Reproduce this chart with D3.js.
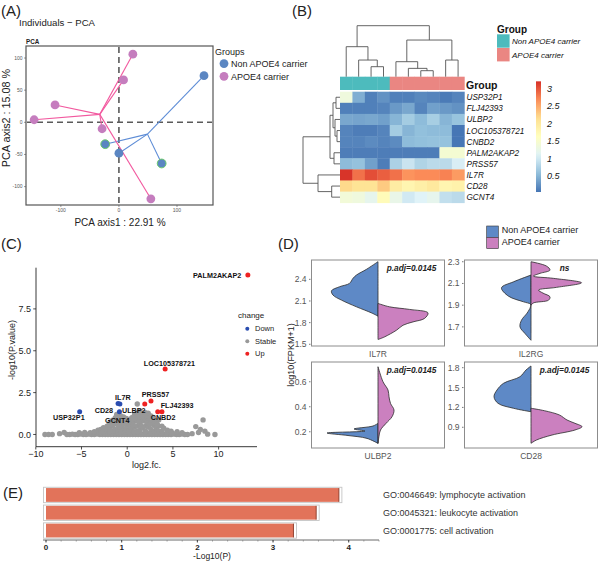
<!DOCTYPE html>
<html><head><meta charset="utf-8">
<script src="https://cdn.jsdelivr.net/npm/d3@7"></script>
<style>body{margin:0;background:#fff}svg{display:block}text{font-family:"Liberation Sans",Arial,Helvetica,sans-serif}</style>
</head><body><svg id="c" width="600" height="562"></svg>
<script>
// ================= DATA =================
// (A) PCA
const pcaGroupNames = ["Non APOE4 carrier", "APOE4 carrier"];
const pcaNonX = [146.5, -23.6, 0, 73.6];
const pcaNonY = [72.5, -34, -48, -64];
const pcaNonRing = [0, 1, 0, 1];
const pcaApoX = [24, 8, -110, -146, -29, 55];
const pcaApoY = [106, 66, 27, 4, -10, -119];
const pcaXTicks = [-100, 0, 100];
const pcaYTicks = [-100, -50, 0, 50, 100];

// (B) heatmap
const hmGenes = ["USP32P1","FLJ42393","ULBP2","LOC105378721","CNBD2","PALM2AKAP2","PRSS57","IL7R","CD28","GCNT4"];
const hmSamples = ["S1","S2","S3","S4","S5","S6","S7","S8","S9","S10"];
const hmSampleGroup = ["Non APOE4 carrier","Non APOE4 carrier","Non APOE4 carrier","Non APOE4 carrier",
  "APOE4 carrier","APOE4 carrier","APOE4 carrier","APOE4 carrier","APOE4 carrier","APOE4 carrier"];
const hmValues = [
  [1.35,0.45,0.12,0.25,0.12,0.12,0.18,0.15,0.08,0.15],
  [0.12,0.12,0.12,0.15,0.30,0.40,0.15,0.35,0.30,0.25],
  [0.40,0.38,0.40,0.35,0.50,0.70,0.55,0.72,0.50,0.62],
  [0.15,0.10,0.10,0.15,0.70,0.50,0.58,0.55,0.55,0.05],
  [0.15,0.15,0.20,0.15,0.20,0.55,0.58,0.60,0.60,0.05],
  [0.10,0.10,0.10,0.10,0.10,0.10,0.10,0.10,1.45,1.45],
  [0.55,0.60,0.35,0.10,0.75,0.95,0.78,0.85,0.85,1.05],
  [3.20,2.85,3.05,2.95,2.85,2.65,2.70,2.70,2.75,2.60],
  [2.20,2.10,2.10,2.30,1.95,1.80,1.90,2.00,1.80,1.85],
  [1.40,1.35,1.20,1.70,1.25,1.00,1.10,1.20,0.90,0.85]
];
const hmLegendTicks = [0.5, 1, 1.5, 2, 2.5, 3];
const hmRange = [0.04, 3.22];
// hclust-style merges (negative = leaf, positive = earlier merge) and heights
const colMerge = [[-3,-4],[-2,1],[-1,2],[-7,-8],[-6,4],[-5,5],[-9,-10],[6,7],[3,8]];
const colHeight = [30,50,90,18,25,45,50,110,153];
const rowMerge = [[-4,-5],[-1,-2],[-3,1],[2,3],[-6,-7],[4,5],[-9,-10],[-8,7],[6,8]];
const rowHeight = [3,4,5,7,6,10,8.3,22,37];

// (C) volcano
const volStable = [
 [-9.0,0],[-8.6,0],[-8.2,0],[-7.4,0.05],[-6.9,0.12],
 [-6.6,0],[-6.3,0],[-6.0,0.02],[-5.7,0],[-5.4,0],[-5.1,0.03],[-4.8,0],[-4.5,0],[-4.2,0.02],[-3.9,0],[-3.6,0],[-3.3,0.03],
 [-3.0,0],[-2.7,0],[-2.4,0],[-2.1,0],[-1.8,0],[-1.5,0],[-1.2,0],[-0.9,0],[-0.6,0],[-0.3,0],[0,0],[0.3,0],[0.6,0],[0.9,0],
 [1.2,0],[1.5,0],[1.8,0],[2.1,0],[2.4,0],[2.7,0],[3.0,0],[3.3,0],[3.6,0],[3.9,0],[4.2,0],[4.5,0],[4.8,0],[5.1,0.02],
 [5.4,0],[5.7,0],[6.0,0.03],[6.3,0],[6.6,0],
 [-5.25,0.1],[-4.65,0.12],[-4.05,0.1],[-3.45,0.12],[-2.85,0.12],[-2.25,0.13],[-1.65,0.12],[-1.05,0.12],[-0.45,0.13],
 [0.15,0.12],[0.75,0.12],[1.35,0.13],[1.95,0.12],[2.55,0.12],[3.15,0.12],[3.75,0.1],[4.35,0.1],[4.95,0.08],
 [7.1,0.05],[7.5,0.47],[7.8,0.12],[8.0,0.3],[8.3,0.87],[8.5,0.2],[8.8,0.02],[9.6,0],
 [-3.6,0.17],[-3.2,0.25],[-2.9,0.3],[-2.9,0.1],[-2.6,0.4],[-2.6,0.15],[-2.2,0.5],[-2.2,0.25],[-1.9,0.7],[-1.9,0.35],
 [-1.9,0.15],[-1.6,0.85],[-1.6,0.5],[-1.6,0.2],[-1.3,1.0],[-1.3,0.65],[-1.3,0.3],[-1.0,0.9],[-1.0,0.55],[-1.0,0.25],
 [-0.7,1.1],[-0.7,0.75],[-0.7,0.4],[-0.7,0.15],[-0.4,1.05],[-0.4,0.7],[-0.4,0.35],[-0.1,0.95],[-0.1,0.6],[-0.1,0.3],
 [0.2,0.9],[0.2,0.55],[0.2,0.25],[0.5,1.0],[0.5,0.65],[0.5,0.3],[0.8,1.2],[0.8,0.8],[0.8,0.45],[0.8,0.15],
 [1.1,1.82],[1.1,1.3],[1.1,0.9],[1.1,0.5],[1.1,0.2],[1.4,1.4],[1.4,1.0],[1.4,0.6],[1.4,0.25],[1.7,1.2],[1.7,0.8],[1.7,0.4],
 [2.0,1.3],[2.0,0.9],[2.0,0.5],[2.0,0.2],[2.3,1.27],[2.3,0.85],[2.3,0.45],[2.6,1.1],[2.6,0.7],[2.6,0.3],
 [2.9,0.95],[2.9,0.55],[2.9,0.2],[3.2,0.8],[3.2,0.4],[3.45,0.87],[3.45,0.5],[3.45,0.2],[3.8,0.5],[3.8,0.2],
 [4.0,0.37],[4.4,0.25],[4.8,0.2],[5.46,0.17],[6.0,0.1],
 [-2.4,0.35],[-2.0,0.55],[-1.75,0.6],[-1.45,0.75],[-1.15,1.2],[-1.15,0.8],[-0.85,1.0],[-0.55,0.9],[-0.55,0.55],
 [-0.25,0.85],[0.05,0.75],[0.35,0.8],[0.65,0.95],[0.95,1.05],[1.25,1.15],[1.25,0.75],[1.55,1.25],[1.85,1.05],
 [2.15,1.1],[2.45,1.0],[2.75,0.8],[3.05,0.65],[3.3,0.6],[-0.85,0.45],[0.35,0.45],[0.65,0.6],[1.55,0.5],[2.15,0.7],[2.45,0.6]
];
const volGenes = ["PALM2AKAP2","LOC105378721","PRSS57","ULBP2","FLJ42393","CNBD2","IL7R","CD28","GCNT4","USP32P1"];
const volFC = [13.2, 4.15, 2.6, 1.92, 3.8, 3.34, -0.8, -1.0, -0.85, -5.2];
const volP = [9.52, 3.91, 2.0, 1.82, 1.36, 1.36, 1.82, 1.85, 1.36, 1.36];
const volChange = ["Up","Up","Up","Up","Up","Up","Down","Down","Down","Down"];
const volLabelX = [12.48, 4.62, 3.09, 0.72, 5.46, 3.93, -0.48, -2.55, -1.09, -6.38];
const volLabelY = [9.34, 4.09, 2.21, 1.31, 1.61, 0.87, 2.06, 1.31, 0.69, 0.87];
const volXTicks = [-10, -5, 0, 5, 10];
const volYTicks = [0, 2.5, 5, 7.5];
const volLegend = ["Down", "Stable", "Up"];

// (D) split violins: [log10(FPKM+1), relative density]
const vioGenes = ["IL7R", "IL2RG", "ULBP2", "CD28"];
const vioNon = [
  [[2.645,0],[2.539,0.23],[2.46,0.43],[2.414,0.5],[2.344,0.57],[2.297,0.77],[2.241,0.93],[2.182,0.9],[2.112,0.73],[2.019,0.43],[1.935,0.13],[1.89,0]],
  [[2.177,0],[2.115,0.35],[2.06,0.59],[1.983,0.45],[1.931,0.15],[1.909,0.01],[1.884,0.01],[1.826,0.08],[1.762,0.19],[1.70,0.22],[1.639,0.12],[1.577,0]],
  [[0.267,0],[0.246,0.1],[0.222,0.48],[0.206,0.26],[0.19,1.02],[0.17,0.6],[0.147,0.22],[0.107,0]],
  [[1.826,0],[1.765,0.1],[1.664,0.22],[1.564,0.55],[1.463,0.68],[1.362,0.74],[1.262,0.66],[1.187,0.35],[1.135,0]]
];
const vioApo = [
  [[2.066,0],[2.019,0.23],[1.983,0.63],[1.935,1.0],[1.858,0.93],[1.81,0.7],[1.764,0.5],[1.695,0.37],[1.602,0.13],[1.566,0]],
  [[2.30,0],[2.26,0.31],[2.223,0.38],[2.193,0.18],[2.168,0.05],[2.147,0.45],[2.106,1.01],[2.064,0.51],[2.039,0.15],[2.011,0.24],[1.977,0.38],[1.946,0.35],[1.921,0.05],[1.90,0]],
  [[0.72,0],[0.6,0.1],[0.534,0.2],[0.48,0.22],[0.427,0.25],[0.374,0.32],[0.32,0.28],[0.267,0.16],[0.214,0.05],[0.165,0.02],[0.107,0]],
  [[1.187,0],[1.15,0.27],[1.085,0.57],[1.01,0.72],[0.96,0.88],[0.909,1.02],[0.859,0.88],[0.783,0.42],[0.708,0.11],[0.658,0]]
];
const vioDomain = [[1.476,2.668],[1.524,2.316],[0.07,0.758],[0.587,1.886]];
const vioTicks = [[1.5,1.8,2.1,2.4],[1.7,1.9,2.1,2.3],[0.2,0.4,0.6],[0.9,1.2,1.5,1.8]];
const vioSig = ["p.adj=0.0145", "ns", "p.adj=0.0145", "p.adj=0.0145"];

// (E) GO enrichment
const goTerms = ["GO:0046649: lymphocyte activation","GO:0045321: leukocyte activation","GO:0001775: cell activation"];
const goLogP = [3.87, 3.57, 3.27];
const goTicks = [0, 1, 2, 3, 4];

// ================= DRAW =================
const svg = d3.select("#c");
svg.append("rect").attr("width",600).attr("height",562).attr("fill","#fff");
function txt(g, x, y, s, o) {
  o = o || {};
  const t = g.append("text").attr("x", x).attr("y", y).text(s)
    .attr("font-size", o.size || 9).attr("fill", o.fill || "#222");
  if (o.anchor) t.attr("text-anchor", o.anchor);
  if (o.weight) t.attr("font-weight", o.weight);
  if (o.style) t.attr("font-style", o.style);
  if (o.rotate) t.attr("transform", `rotate(${o.rotate},${x},${y})`);
  return t;
}
// panel labels
[["(A)",1,16],["(B)",292,16],["(C)",1,249],["(D)",278,249],["(E)",3,498]].forEach(d=>txt(svg,d[1],d[2],d[0],{size:15,fill:"#222"}));

// ---------- A ----------
(function(){
  const g = svg.append("g");
  const x = d3.scaleLinear().domain([-160,162]).range([26,213]);
  const y = d3.scaleLinear().domain([-128.6,118.7]).range([205,46]);
  txt(g,19,26,"Individuals \u2212 PCA",{size:9.6});
  txt(g,26,44,"PCA",{size:6.3,weight:"bold"});
  g.append("line").attr("x1",x(0)).attr("x2",x(0)).attr("y1",47).attr("y2",204)
    .attr("stroke","#5a5a5a").attr("stroke-width",1.6).attr("stroke-dasharray","6,4");
  g.append("line").attr("y1",y(0)).attr("y2",y(0)).attr("x1",27).attr("x2",212)
    .attr("stroke","#5a5a5a").attr("stroke-width",1.6).attr("stroke-dasharray","6,4");
  const groups = [
    {xs:pcaNonX, ys:pcaNonY, ring:pcaNonRing, fill:"#5B86C2", line:"#5D8CD6"},
    {xs:pcaApoX, ys:pcaApoY, ring:null, fill:"#C57DBE", line:"#F2599F"}
  ];
  groups.forEach(gr=>{
    const cx = d3.mean(gr.xs), cy = d3.mean(gr.ys);
    gr.xs.forEach((v,i)=>g.append("line").attr("x1",x(cx)).attr("y1",y(cy)).attr("x2",x(v)).attr("y2",y(gr.ys[i]))
      .attr("stroke",gr.line).attr("stroke-width",1.1));
  });
  groups.forEach(gr=>{
    gr.xs.forEach((v,i)=>g.append("circle").attr("cx",x(v)).attr("cy",y(gr.ys[i])).attr("r",4.4)
      .attr("fill",gr.fill).attr("stroke",gr.ring && gr.ring[i] ? "#6CCB6C" : "none").attr("stroke-width",1));
  });
  g.append("rect").attr("x",26).attr("y",46).attr("width",187).attr("height",159)
    .attr("fill","none").attr("stroke","#555").attr("stroke-width",1.2);
  pcaXTicks.forEach(v=>{
    g.append("line").attr("x1",x(v)).attr("x2",x(v)).attr("y1",205).attr("y2",207).attr("stroke","#555").attr("stroke-width",0.6);
    txt(g,x(v),211.5,String(v),{size:5,anchor:"middle",fill:"#555"});
  });
  pcaYTicks.forEach(v=>{
    g.append("line").attr("x1",24).attr("x2",26).attr("y1",y(v)).attr("y2",y(v)).attr("stroke","#555").attr("stroke-width",0.6);
    txt(g,22.5,y(v)+1.8,String(v),{size:5,anchor:"end",fill:"#555"});
  });
  txt(g,120,226,"PCA axis1 : 22.91 %",{size:10,anchor:"middle",fill:"#222"});
  txt(g,10,118,"PCA axis2 : 15.08 %",{size:10.8,anchor:"middle",rotate:-90,fill:"#222"});
  txt(g,215,55,"Groups",{size:9});
  pcaGroupNames.forEach((n,i)=>{
    g.append("circle").attr("cx",224).attr("cy",63.6+i*12.7).attr("r",4.4).attr("fill",groups[i].fill);
    txt(g,231,66.8+i*12.7,n,{size:9});
  });
})();

// ---------- B ----------
(function(){
  const g = svg.append("g");
  const hx = d3.scaleBand().domain(hmSamples).range([340,464.3]);
  const hy = d3.scaleBand().domain(hmGenes).range([91.7,202.7]);
  const pal = ["#4575B4","#91BFDB","#E0F3F8","#FFFFBF","#FEE090","#FC8D59","#D73027"];
  const col = d3.scaleLinear().domain(d3.range(7).map(i=>hmRange[0]+i*(hmRange[1]-hmRange[0])/6)).range(pal).clamp(true);
  const grpCol = {"Non APOE4 carrier":"#4DBBBD","APOE4 carrier":"#EA8682"};
  hmValues.forEach((row,ri)=>row.forEach((v,ci)=>{
    g.append("rect").attr("x",hx(hmSamples[ci])).attr("y",hy(hmGenes[ri]))
      .attr("width",hx.bandwidth()+0.4).attr("height",hy.bandwidth()+0.4).attr("fill",col(v));
  }));
  hmSamples.forEach((s,ci)=>g.append("rect").attr("x",hx(s)).attr("y",76.7).attr("width",hx.bandwidth()+0.4)
    .attr("height",13.3).attr("fill",grpCol[hmSampleGroup[ci]]));
  hmGenes.forEach(gn=>txt(g,466.5,hy(gn)+hy.bandwidth()/2+3,gn,{size:8.2,style:"italic",fill:"#111"}));
  txt(g,466,88.5,"Group",{size:10.5,weight:"bold",fill:"#111"});
  function dendro(merge, heights, leafPos, hpx, base, vertical){
    const pos=[], hh=[];
    const get=k=>k<0?{p:leafPos(-k-1),h:0}:{p:pos[k-1],h:hh[k-1]};
    merge.forEach((m,i)=>{
      const a=get(m[0]), b=get(m[1]), h=heights[i];
      pos[i]=(a.p+b.p)/2; hh[i]=h;
      let d;
      if (vertical) d=`M${a.p},${base-hpx(a.h)}V${base-hpx(h)}H${b.p}V${base-hpx(b.h)}`;
      else d=`M${base-hpx(a.h)},${a.p}H${base-hpx(h)}V${b.p}H${base-hpx(b.h)}`;
      g.append("path").attr("d",d).attr("fill","none").attr("stroke","#555").attr("stroke-width",0.9);
    });
  }
  dendro(colMerge,colHeight,i=>hx(hmSamples[i])+hx.bandwidth()/2,d3.scaleLinear().domain([0,153]).range([0,51]),76.7,true);
  dendro(rowMerge,rowHeight,i=>hy(hmGenes[i])+hy.bandwidth()/2,d3.scaleLinear().domain([0,37]).range([0,37]),340,false);
  txt(g,497,33,"Group",{size:10,weight:"bold",fill:"#111"});
  pcaGroupNames.forEach((n,i)=>{
    g.append("rect").attr("x",497).attr("y",34.3+i*13.7).attr("width",12.6).attr("height",13.4).attr("fill",grpCol[n]);
    txt(g,512,44+i*13.7,n,{size:8,style:"italic",fill:"#111"});
  });
  const ly = d3.scaleLinear().domain([0.5,3]).range([176,89]);
  const grad = svg.append("defs").append("linearGradient").attr("id","hmg").attr("x1",0).attr("x2",0).attr("y1",1).attr("y2",0);
  d3.range(0,1.0001,0.05).forEach(t=>grad.append("stop").attr("offset",t).attr("stop-color",col(hmRange[0]+t*(hmRange[1]-hmRange[0]))));
  g.append("rect").attr("x",536).attr("y",ly(hmRange[1])).attr("width",5).attr("height",ly(hmRange[0])-ly(hmRange[1])).attr("fill","url(#hmg)");
  hmLegendTicks.forEach(v=>txt(g,547,ly(v)+3,String(v),{size:9,style:"italic",fill:"#111"}));
})();

// ---------- C ----------
(function(){
  const g = svg.append("g");
  const x = d3.scaleLinear().domain([-10,14.2]).range([35.8,257]);
  const y = d3.scaleLinear().domain([-0.73,9.96]).range([446.7,267.7]);
  const colr = {Down:"#2A4DB0",Stable:"#999999",Up:"#EE2222"};
  volStable.forEach(d=>g.append("circle").attr("cx",x(d[0])).attr("cy",y(d[1])).attr("r",2.7).attr("fill",colr.Stable));
  volGenes.forEach((n,i)=>{
    g.append("circle").attr("cx",x(volFC[i])).attr("cy",y(volP[i])).attr("r",2.5).attr("fill",colr[volChange[i]]);
  });
  volGenes.forEach((n,i)=>txt(g,x(volLabelX[i]),y(volLabelY[i]),n,{size:7.2,weight:"bold",anchor:i===0?"end":"middle",fill:"#111"}));
  g.append("line").attr("x1",36).attr("x2",36).attr("y1",267.7).attr("y2",446.7).attr("stroke","#222").attr("stroke-width",0.9);
  g.append("line").attr("x1",36).attr("x2",257).attr("y1",446.7).attr("y2",446.7).attr("stroke","#222").attr("stroke-width",0.9);
  volXTicks.forEach(v=>{
    g.append("line").attr("x1",x(v)).attr("x2",x(v)).attr("y1",446.7).attr("y2",449.5).attr("stroke","#222").attr("stroke-width",0.8);
    txt(g,x(v),457,v<0?"\u2212"+Math.abs(v):String(v),{size:9,anchor:"middle",fill:"#222"});
  });
  volYTicks.forEach(v=>{
    g.append("line").attr("x1",33.2).attr("x2",36).attr("y1",y(v)).attr("y2",y(v)).attr("stroke","#222").attr("stroke-width",0.8);
    txt(g,31,y(v)+3.2,v.toFixed(1),{size:9,anchor:"end",fill:"#222"});
  });
  txt(g,146.5,468,"log2.fc.",{size:9,anchor:"middle"});
  txt(g,15,350,"-log10(P.value)",{size:9,anchor:"middle",rotate:-90});
  txt(g,238,317.5,"change",{size:8});
  volLegend.forEach((n,i)=>{
    g.append("circle").attr("cx",247.3).attr("cy",328.7+i*12.5).attr("r",2).attr("fill",colr[n]);
    txt(g,255,331.4+i*12.5,n,{size:7.5});
  });
})();

// ---------- D ----------
(function(){
  const g = svg.append("g");
  const lefts=[311.5,464.5,311.5,464.5], tops=[260,260,362,362], bw=133, bh=86;
  const wS = d3.scaleLinear().domain([0,1]).range([0,50]);
  vioGenes.forEach((gn,k)=>{
    const L=lefts[k], T=tops[k], cx=L+bw/2;
    const y = d3.scaleLinear().domain(vioDomain[k]).range([T+bh,T]);
    const areaL = d3.area().curve(d3.curveCatmullRom).y(d=>y(d[0])).x0(cx).x1(d=>cx-wS(d[1]));
    const areaR = d3.area().curve(d3.curveCatmullRom).y(d=>y(d[0])).x0(cx).x1(d=>cx+wS(d[1]));
    g.append("path").attr("d",areaL(vioNon[k])).attr("fill","#5E89C6").attr("stroke","#2b2b2b").attr("stroke-width",0.8);
    g.append("path").attr("d",areaR(vioApo[k])).attr("fill","#CB80BF").attr("stroke","#2b2b2b").attr("stroke-width",0.8);
    g.append("rect").attr("x",L).attr("y",T).attr("width",bw).attr("height",bh).attr("fill","none").attr("stroke","#8c8c8c").attr("stroke-width",1);
    vioTicks[k].forEach(v=>{
      g.append("line").attr("x1",L-2.5).attr("x2",L-1).attr("y1",y(v)).attr("y2",y(v)).attr("stroke","#555").attr("stroke-width",0.8);
      txt(g,L-5,y(v)+3,String(v),{size:8.5,anchor:"end",fill:"#555"});
    });
    txt(g,cx,T+bh+10.5,gn,{size:8.5,anchor:"middle",fill:"#555"});
    txt(g,L+100,T+11,vioSig[k],{size:8.3,anchor:"middle",weight:"bold",style:"italic",fill:"#222"});
  });
  txt(g,293.5,355,"log10(FPKM+1)",{size:9,anchor:"middle",rotate:-90});
  pcaGroupNames.forEach((n,i)=>{
    g.append("rect").attr("x",486.7).attr("y",226+i*11.3).attr("width",11.6).attr("height",11.3)
      .attr("fill",i===0?"#5E89C6":"#CB80BF").attr("stroke","#333").attr("stroke-width",0.6);
    txt(g,501.7,232.5+i*12.3,n,{size:9,fill:"#222"});
  });
})();

// ---------- E ----------
(function(){
  const g = svg.append("g");
  const x = d3.scaleLinear().domain([0,4.4]).range([46,379]);
  const yb = d3.scaleBand().domain(goTerms).range([487,538.5]).paddingInner(0.225).paddingOuter(0.06);
  goTerms.forEach((t,i)=>{
    const y0=yb(t), h=yb.bandwidth();
    g.append("rect").attr("x",43.5).attr("y",y0-0.8).attr("width",x(goLogP[i])+3-43.5).attr("height",h+1.6)
      .attr("fill","#fff").attr("stroke","#c4c4c4").attr("stroke-width",0.9);
    g.append("rect").attr("x",46).attr("y",y0).attr("width",x(goLogP[i])-46).attr("height",h).attr("fill","#E2735A");
    g.append("line").attr("x1",x(goLogP[i])).attr("x2",x(goLogP[i])).attr("y1",y0).attr("y2",y0+h).attr("stroke","#8a3a28").attr("stroke-width",0.9);
    txt(g,383,y0+h/2+3.2,t,{size:9,fill:"#333"});
  });
  g.append("line").attr("x1",43).attr("x2",379).attr("y1",540).attr("y2",540).attr("stroke","#444").attr("stroke-width",0.8);
  d3.range(0,4.41,0.2).forEach(v=>g.append("line").attr("x1",x(v)).attr("x2",x(v)).attr("y1",540).attr("y2",541.6).attr("stroke","#777").attr("stroke-width",0.6));
  goTicks.forEach(v=>{
    g.append("line").attr("x1",x(v)).attr("x2",x(v)).attr("y1",540).attr("y2",542.5).attr("stroke","#333").attr("stroke-width",0.9);
    txt(g,x(v),549.5,String(v),{size:8,anchor:"middle",weight:"bold",fill:"#222"});
  });
  txt(g,212,559,"-Log10(P)",{size:8.5,anchor:"middle",fill:"#222"});
})();
</script></body></html>
